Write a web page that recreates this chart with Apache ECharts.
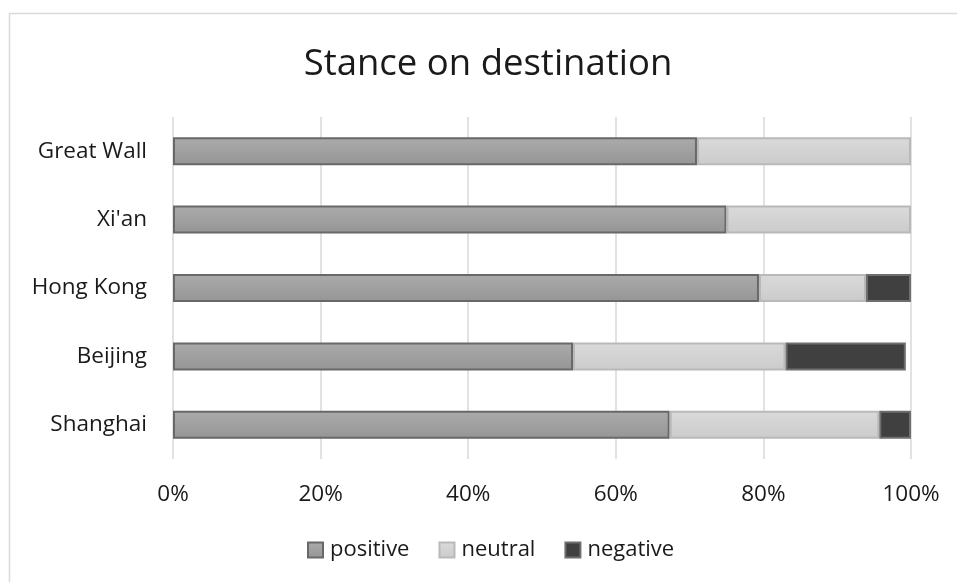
<!DOCTYPE html>
<html>
<head>
<meta charset="utf-8">
<script src="https://cdn.jsdelivr.net/npm/echarts@6/dist/echarts.min.js"></script>
<style>
  html, body { margin: 0; padding: 0; background: #fff; }
  #chart { width: 957px; height: 582px; }
</style>
</head>
<body>
<div id="chart"></div>
<script>
// Categories listed bottom to top (as ECharts draws a category y axis)
const categories = ['Shanghai', 'Beijing', 'Hong Kong', "Xi'an", 'Great Wall'];
const positive = [0.673, 0.542, 0.794, 0.75, 0.71];
const neutral  = [0.284, 0.288, 0.145, 0.25, 0.29];
const negative = [0.043, 0.163, 0.061, 0, 0];
const seriesNames = ['positive', 'neutral', 'negative'];
const titleText = 'Stance on destination';

const FONT = 'Open Sans';

function grad(top, bottom) {
  return new echarts.graphic.LinearGradient(0, 0, 0, 1, [
    { offset: 0, color: top },
    { offset: 1, color: bottom }
  ]);
}

const styles = [
  { color: grad('#ababab', '#959595'), borderColor: '#686868' },
  { color: grad('#dadada', '#cbcbcb'), borderColor: '#b9b9b9' },
  { color: '#404040', borderColor: '#6e6e6e' }
];
const values = [positive, neutral, negative];

const chart = echarts.init(document.getElementById('chart'), null, { renderer: 'canvas' });
chart.setOption({
  backgroundColor: '#ffffff',
  animation: false,
  textStyle: { fontFamily: FONT },
  title: {
    text: titleText,
    left: 488,
    top: 46,
    textAlign: 'center',
    padding: 0,
    textStyle: { fontFamily: FONT, fontSize: 36.5, fontWeight: 'normal', color: '#1a1a1a' }
  },
  graphic: [{
    type: 'rect',
    shape: { x: 9.5, y: 13.5, width: 1000, height: 1000 },
    style: { fill: 'none', stroke: '#d9d9d9', lineWidth: 1.5 },
    silent: true,
    z: -1
  }],
  legend: {
    data: seriesNames,
    left: 307,
    top: 539,
    padding: 0,
    itemWidth: 15,
    itemHeight: 15,
    itemGap: 29,
    icon: 'rect',
    textStyle: { fontFamily: FONT, fontSize: 22, color: '#1a1a1a', padding: [0, 0, 0, 2] }
  },
  grid: { left: 173, right: 46, top: 117, bottom: 123, containLabel: false },
  xAxis: {
    type: 'value',
    min: 0,
    max: 1,
    interval: 0.2,
    axisLine: { show: false },
    axisTick: { show: false },
    splitLine: { show: true, lineStyle: { color: '#d9d9d9', width: 1.5 } },
    axisLabel: {
      margin: 24,
      fontFamily: FONT,
      fontSize: 22.5,
      color: '#1a1a1a',
      formatter: v => Math.round(v * 100) + '%'
    }
  },
  yAxis: {
    type: 'category',
    data: categories,
    axisLine: { show: false },
    axisTick: { show: false },
    splitLine: { show: false },
    axisLabel: { margin: 26, fontFamily: FONT, fontSize: 22.5, color: '#1a1a1a' }
  },
  series: seriesNames.map((name, i) => ({
    name: name,
    type: 'bar',
    stack: 'total',
    barWidth: 28,
    data: values[i].map(v => v === 0 ? { value: v, itemStyle: { borderWidth: 0 } } : v),
    itemStyle: {
      color: styles[i].color,
      borderColor: styles[i].borderColor,
      borderWidth: 2
    }
  }))
});
</script>
</body>
</html>
